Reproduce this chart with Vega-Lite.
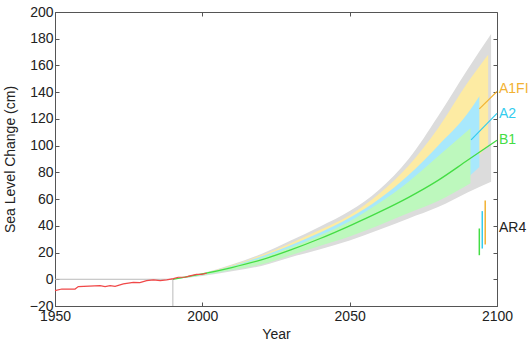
{
  "$schema": "https://vega.github.io/schema/vega-lite/v6.json",
  "width": 442,
  "height": 294,
  "autosize": {"type": "none"},
  "padding": {"left": 55, "top": 12, "right": 35, "bottom": 41},
  "background": "white",
  "config": {
    "view": {"stroke": "#555", "strokeWidth": 1},
    "font": "Liberation Sans",
    "axis": {"grid": false, "domainColor": "#555", "tickColor": "#555", "labelColor": "#222", "titleColor": "#222", "labelFontSize": 14, "titleFontSize": 14, "titleFontWeight": "normal", "labelFont": "Liberation Sans", "titleFont": "Liberation Sans"}
  },
  "datasets": {
    "bands": [
      {"s": "G", "year": 1990, "lo": 0, "hi": 0},
      {"s": "G", "year": 2000, "lo": 2.5, "hi": 4.5},
      {"s": "G", "year": 2010, "lo": 6, "hi": 11},
      {"s": "G", "year": 2020, "lo": 10, "hi": 19},
      {"s": "G", "year": 2030, "lo": 16.5, "hi": 29},
      {"s": "G", "year": 2040, "lo": 22.5, "hi": 39.5},
      {"s": "G", "year": 2050, "lo": 29, "hi": 51},
      {"s": "G", "year": 2060, "lo": 37, "hi": 67},
      {"s": "G", "year": 2070, "lo": 45.5, "hi": 90},
      {"s": "G", "year": 2080, "lo": 54, "hi": 122},
      {"s": "G", "year": 2090, "lo": 65, "hi": 157},
      {"s": "G", "year": 2098, "lo": 73, "hi": 183.5},
      {"s": "Y", "year": 1990, "lo": 0, "hi": 0},
      {"s": "Y", "year": 2000, "lo": 3.2, "hi": 4.3},
      {"s": "Y", "year": 2010, "lo": 7.5, "hi": 10.5},
      {"s": "Y", "year": 2020, "lo": 12.5, "hi": 18},
      {"s": "Y", "year": 2030, "lo": 19, "hi": 27},
      {"s": "Y", "year": 2040, "lo": 26, "hi": 37},
      {"s": "Y", "year": 2050, "lo": 34, "hi": 48},
      {"s": "Y", "year": 2060, "lo": 43, "hi": 64},
      {"s": "Y", "year": 2070, "lo": 54, "hi": 85},
      {"s": "Y", "year": 2080, "lo": 67, "hi": 113},
      {"s": "Y", "year": 2090, "lo": 84, "hi": 147},
      {"s": "Y", "year": 2097, "lo": 100.5, "hi": 168},
      {"s": "C", "year": 1990, "lo": 0, "hi": 0},
      {"s": "C", "year": 2000, "lo": 3.1, "hi": 4.1},
      {"s": "C", "year": 2010, "lo": 7.2, "hi": 10},
      {"s": "C", "year": 2020, "lo": 12, "hi": 17},
      {"s": "C", "year": 2030, "lo": 18.5, "hi": 25.5},
      {"s": "C", "year": 2040, "lo": 25.5, "hi": 35},
      {"s": "C", "year": 2050, "lo": 33, "hi": 46},
      {"s": "C", "year": 2060, "lo": 41.5, "hi": 60},
      {"s": "C", "year": 2070, "lo": 51, "hi": 78},
      {"s": "C", "year": 2080, "lo": 62, "hi": 100},
      {"s": "C", "year": 2090, "lo": 76, "hi": 124},
      {"s": "C", "year": 2094, "lo": 84, "hi": 137},
      {"s": "B", "year": 1990, "lo": 0, "hi": 0},
      {"s": "B", "year": 2000, "lo": 3, "hi": 4},
      {"s": "B", "year": 2010, "lo": 7, "hi": 9.5},
      {"s": "B", "year": 2020, "lo": 11, "hi": 16},
      {"s": "B", "year": 2030, "lo": 18, "hi": 24},
      {"s": "B", "year": 2040, "lo": 25, "hi": 33},
      {"s": "B", "year": 2050, "lo": 32, "hi": 43.5},
      {"s": "B", "year": 2060, "lo": 40.5, "hi": 57},
      {"s": "B", "year": 2070, "lo": 49.5, "hi": 73},
      {"s": "B", "year": 2080, "lo": 58.5, "hi": 92},
      {"s": "B", "year": 2091, "lo": 71.8, "hi": 113}
    ],
    "b1": [
      {"year": 1990, "v": 0}, {"year": 2000, "v": 4}, {"year": 2010, "v": 8.8},
      {"year": 2020, "v": 14.5}, {"year": 2030, "v": 22}, {"year": 2040, "v": 30.5},
      {"year": 2050, "v": 40}, {"year": 2060, "v": 50.2}, {"year": 2070, "v": 61.3},
      {"year": 2080, "v": 74}, {"year": 2090, "v": 89}, {"year": 2100, "v": 104}
    ],
    "obs": [
      {"year": 1950, "v": -8.5}, {"year": 1952.3, "v": -7.3}, {"year": 1956.8, "v": -7.3},
      {"year": 1957.9, "v": -5.5}, {"year": 1965.3, "v": -4.8}, {"year": 1967, "v": -5.5},
      {"year": 1968.7, "v": -4.8}, {"year": 1970.4, "v": -5.3}, {"year": 1973.2, "v": -3.5},
      {"year": 1976.6, "v": -2.3}, {"year": 1978.8, "v": -2.5}, {"year": 1981.1, "v": -1},
      {"year": 1983.4, "v": -0.5}, {"year": 1985.7, "v": -1}, {"year": 1987.9, "v": -0.5},
      {"year": 1990.2, "v": 0.5}, {"year": 1991.8, "v": 1.5}, {"year": 1994.1, "v": 1.5},
      {"year": 1995.8, "v": 2.5}, {"year": 1998, "v": 3.7}, {"year": 1999.7, "v": 3.7},
      {"year": 2001.5, "v": 4.5}
    ],
    "refs": [
      {"x": 1950, "y": 0, "x2": 1990, "y2": 0},
      {"x": 1990, "y": 0, "x2": 1990, "y2": -20}
    ],
    "conn": [
      {"s": "A1FI", "x": 2094, "y": 127.5, "x2": 2100, "y2": 140.5},
      {"s": "A2", "x": 2091.2, "y": 104.3, "x2": 2100, "y2": 124.2}
    ],
    "ar4": [
      {"s": "B1", "year": 2094, "lo": 18, "hi": 38},
      {"s": "A2", "year": 2095, "lo": 23, "hi": 51},
      {"s": "A1FI", "year": 2096, "lo": 26, "hi": 59}
    ],
    "labels": [
      {"t": "A1FI", "year": 2100, "v": 142.5},
      {"t": "A2", "year": 2100, "v": 123.7},
      {"t": "B1", "year": 2100, "v": 104.5},
      {"t": "AR4", "year": 2100, "v": 38.4}
    ]
  },
  "layer": [
    {
      "data": {"name": "bands"},
      "transform": [{"filter": "datum.s === 'G'"}],
      "mark": {"type": "area", "color": "#DCDCDC", "opacity": 1, "interpolate": "monotone"},
      "encoding": {
        "x": {"field": "year", "type": "quantitative", "scale": {"domain": [1950, 2100], "nice": false, "zero": false},
              "axis": {"orient": "bottom", "values": [1950, 2000, 2050, 2100], "format": "d", "tickSize": -4, "labelPadding": 7, "title": "Year", "titlePadding": 4, "domain": true, "labelFlush": false}},
        "y": {"field": "hi", "type": "quantitative", "scale": {"domain": [-20, 200], "nice": false, "zero": false},
              "axis": {"orient": "left", "values": [-20, 0, 20, 40, 60, 80, 100, 120, 140, 160, 180, 200], "tickSize": -4, "labelPadding": 6, "title": "Sea Level Change (cm)", "titlePadding": 12}},
        "y2": {"field": "lo"}
      }
    },
    {
      "data": {"name": "bands"},
      "transform": [{"filter": "datum.s === 'Y'"}],
      "mark": {"type": "area", "color": "#FDEBA3", "opacity": 1, "interpolate": "monotone"},
      "encoding": {
        "x": {"field": "year", "type": "quantitative", "axis": {"orient": "top", "values": [2000, 2050], "tickSize": -4, "labels": false, "title": null, "domain": false}},
        "y": {"field": "hi", "type": "quantitative", "axis": {"orient": "right", "values": [-20, 0, 20, 40, 60, 80, 100, 120, 140, 160, 180, 200], "tickSize": -4, "labels": false, "title": null, "domain": false}},
        "y2": {"field": "lo"}
      }
    },
    {
      "data": {"name": "bands"},
      "transform": [{"filter": "datum.s === 'C'"}],
      "mark": {"type": "area", "color": "#A8E8FC", "opacity": 1, "interpolate": "monotone"},
      "encoding": {
        "x": {"field": "year", "type": "quantitative", "axis": null},
        "y": {"field": "hi", "type": "quantitative", "axis": null},
        "y2": {"field": "lo"}
      }
    },
    {
      "data": {"name": "bands"},
      "transform": [{"filter": "datum.s === 'B'"}],
      "mark": {"type": "area", "color": "#BDF8BD", "opacity": 1, "interpolate": "monotone"},
      "encoding": {
        "x": {"field": "year", "type": "quantitative", "axis": null},
        "y": {"field": "hi", "type": "quantitative", "axis": null},
        "y2": {"field": "lo"}
      }
    },
    {
      "data": {"name": "refs"},
      "mark": {"type": "rule", "color": "#BBBBBB", "strokeWidth": 1},
      "encoding": {
        "x": {"field": "x", "type": "quantitative", "axis": null},
        "y": {"field": "y", "type": "quantitative", "axis": null},
        "x2": {"field": "x2"},
        "y2": {"field": "y2"}
      }
    },
    {
      "data": {"name": "b1"},
      "mark": {"type": "line", "color": "#44DD44", "strokeWidth": 1.3, "interpolate": "monotone"},
      "encoding": {
        "x": {"field": "year", "type": "quantitative", "axis": null},
        "y": {"field": "v", "type": "quantitative", "axis": null}
      }
    },
    {
      "data": {"name": "obs"},
      "mark": {"type": "line", "color": "#F04848", "strokeWidth": 1.2},
      "encoding": {
        "x": {"field": "year", "type": "quantitative", "axis": null},
        "y": {"field": "v", "type": "quantitative", "axis": null}
      }
    },
    {
      "data": {"name": "conn"},
      "mark": {"type": "rule", "strokeWidth": 1.2},
      "encoding": {
        "x": {"field": "x", "type": "quantitative", "axis": null},
        "y": {"field": "y", "type": "quantitative", "axis": null},
        "x2": {"field": "x2"},
        "y2": {"field": "y2"},
        "color": {"field": "s", "type": "nominal", "scale": {"domain": ["A1FI", "A2", "B1", "AR4"], "range": ["#F2B233", "#33CCEE", "#44DD44", "#222222"]}, "legend": null}
      }
    },
    {
      "data": {"name": "ar4"},
      "mark": {"type": "rule", "strokeWidth": 1.5},
      "encoding": {
        "x": {"field": "year", "type": "quantitative", "axis": null},
        "y": {"field": "lo", "type": "quantitative", "axis": null},
        "y2": {"field": "hi"},
        "color": {"field": "s", "type": "nominal", "legend": null}
      }
    },
    {
      "data": {"name": "labels"},
      "mark": {"type": "text", "align": "left", "baseline": "middle", "dx": 2, "fontSize": 14, "font": "Liberation Sans"},
      "encoding": {
        "x": {"field": "year", "type": "quantitative", "axis": null},
        "y": {"field": "v", "type": "quantitative", "axis": null},
        "text": {"field": "t"},
        "color": {"field": "t", "type": "nominal", "legend": null}
      }
    }
  ],
  "resolve": {"axis": {"x": "independent", "y": "independent"}}
}
